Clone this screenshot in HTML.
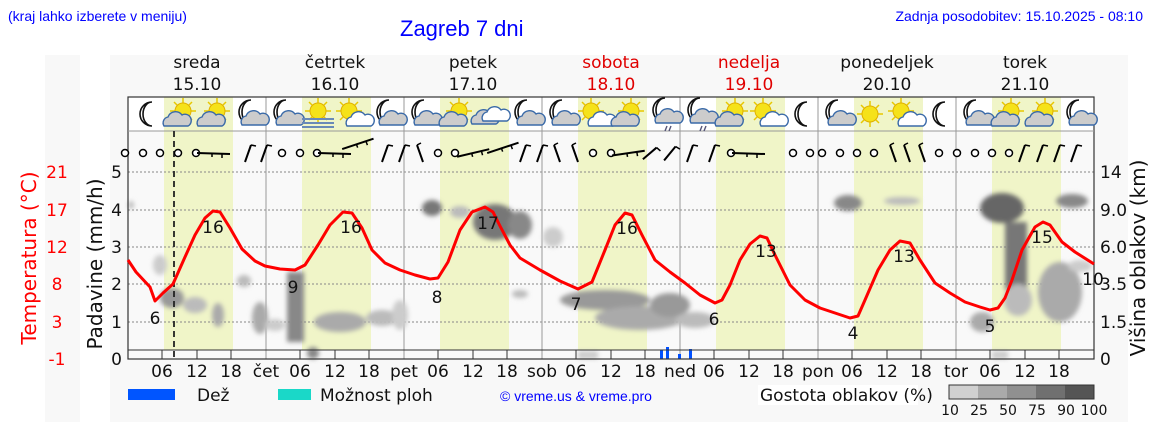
<!DOCTYPE html>
<html><head><meta charset="utf-8"><style>
html,body{margin:0;padding:0;background:#fff;}
svg{display:block;font-family:"DejaVu Sans","Liberation Sans",sans-serif;}
.lib{font-family:"Liberation Sans",sans-serif;}
</style></head><body>
<svg width="1152" height="443" viewBox="0 0 1152 443" xmlns="http://www.w3.org/2000/svg">
<defs>
<filter id="bl" x="-50%" y="-50%" width="200%" height="200%"><feGaussianBlur stdDeviation="2.5"/></filter>
<g id="moon"><path d="M6,-12 A12,12 0 1 0 6,12 A9,12 0 1 1 6,-12Z" fill="#fff" stroke="#111" stroke-width="1.6"/></g>
<g id="sun"><g stroke="#e8c800" stroke-width="1.5"><line x1="-13" y1="0" x2="13" y2="0"/><line x1="0" y1="-13" x2="0" y2="13"/><line x1="-9" y1="-9" x2="9" y2="9"/><line x1="-9" y1="9" x2="9" y2="-9"/></g><circle r="8" fill="#f5e21a" stroke="#e0b000" stroke-width="1"/></g>
<g id="cloud"><path d="M-12,6 A6,6 0 0 1 -8,-3 A8,8 0 0 1 6,-5 A6,6 0 0 1 12,6Z" fill="#ccc" stroke="#3a6aa8" stroke-width="1.4"/></g>
<g id="wcloud"><path d="M-12,6 A6,6 0 0 1 -8,-3 A8,8 0 0 1 6,-5 A6,6 0 0 1 12,6Z" fill="#fff" stroke="#3a6aa8" stroke-width="1.4"/></g>
<g id="mc"><use href="#moon" x="-4" y="-2"/><use href="#cloud" x="5" y="5"/></g>
<g id="sc"><use href="#sun" x="3" y="-3"/><use href="#cloud" x="-4" y="6"/></g>
<g id="ssc"><use href="#sun" x="-3" y="-3"/><use href="#wcloud" x="7" y="6"/></g>
<g id="cc"><use href="#cloud" x="-6" y="4"/><use href="#wcloud" x="5" y="1"/></g>
<g id="mr"><use href="#mc"/><line x1="4" y1="14" x2="2" y2="19" stroke="#557" stroke-width="1.4"/><line x1="8" y1="14" x2="6" y2="19" stroke="#557" stroke-width="1.4"/></g>
<g id="fog"><use href="#sun" x="0" y="-3"/><g stroke="#6a8ab8" stroke-width="2"><line x1="-16" y1="5" x2="16" y2="5"/><line x1="-16" y1="9" x2="16" y2="9"/><line x1="-16" y1="13" x2="16" y2="13"/></g></g>
<circle id="o" r="3.5" fill="#fff" stroke="#000" stroke-width="1.5"/>
<g id="h"><line x1="-3" y1="0" x2="30" y2="1" stroke="#000" stroke-width="2"/><line x1="12" y1="0" x2="12" y2="4" stroke="#000" stroke-width="1.5"/><line x1="22" y1="1" x2="22" y2="5" stroke="#000" stroke-width="1.5"/></g>
<g id="s"><line x1="-3" y1="9" x2="3" y2="-8" stroke="#000" stroke-width="2"/><line x1="3" y1="-8" x2="8" y2="-7" stroke="#000" stroke-width="1.5"/></g>
<g id="b"><line x1="-3" y1="-8" x2="3" y2="9" stroke="#000" stroke-width="2"/><line x1="-3" y1="-8" x2="1" y2="-10" stroke="#000" stroke-width="1.5"/></g>
</defs>

<rect x="45" y="55" width="35" height="367" fill="#f8f8f8"/>
<rect x="110" y="55" width="1018" height="367" fill="#f8f8f8"/>
<rect x="128" y="97" width="966" height="262" fill="#f9f9f9"/>
<rect x="128" y="97" width="966" height="34" fill="#fff"/>

<g fill="#f0f5c8">
<rect x="164" y="97" width="69" height="253"/>
<rect x="302" y="97" width="69" height="253"/>
<rect x="440" y="97" width="69" height="253"/>
<rect x="578" y="97" width="69" height="253"/>
<rect x="716" y="97" width="69" height="253"/>
<rect x="854" y="97" width="69" height="253"/>
<rect x="992" y="97" width="69" height="253"/>
</g>

<g stroke="#888" stroke-width="1" stroke-dasharray="2,2">
<line x1="128" y1="172" x2="1094" y2="172"/><line x1="128" y1="210" x2="1094" y2="210"/>
<line x1="128" y1="247" x2="1094" y2="247"/><line x1="128" y1="284" x2="1094" y2="284"/>
<line x1="128" y1="322" x2="1094" y2="322"/>
</g>
<g stroke="#999" stroke-width="1">
<line x1="266" y1="97" x2="266" y2="359"/><line x1="404" y1="97" x2="404" y2="359"/>
<line x1="542" y1="97" x2="542" y2="359"/><line x1="680" y1="97" x2="680" y2="359"/>
<line x1="818" y1="97" x2="818" y2="359"/><line x1="956" y1="97" x2="956" y2="359"/>
</g>

<g filter="url(#bl)">
<ellipse cx="131" cy="205" rx="3" ry="4" fill="#bbb"/>
<ellipse cx="160" cy="265" rx="7" ry="10" fill="#ccc"/>
<ellipse cx="172" cy="298" rx="12" ry="10" fill="#999"/>
<ellipse cx="195" cy="305" rx="12" ry="8" fill="#bbb"/>
<ellipse cx="218" cy="315" rx="6" ry="12" fill="#aaa"/>
<ellipse cx="244" cy="281" rx="7" ry="6" fill="#bbb"/>
<ellipse cx="260" cy="318" rx="8" ry="16" fill="#aaa"/>
<ellipse cx="275" cy="325" rx="10" ry="6" fill="#ccc"/>
<rect x="287" y="272" width="17" height="70" fill="#888"/>
<ellipse cx="313" cy="353" rx="6" ry="6" fill="#888"/>
<ellipse cx="340" cy="322" rx="26" ry="10" fill="#aaa"/>
<ellipse cx="382" cy="318" rx="16" ry="8" fill="#bbb"/>
<ellipse cx="400" cy="315" rx="8" ry="15" fill="#ccc"/>
<ellipse cx="432" cy="208" rx="10" ry="8" fill="#777"/>
<ellipse cx="460" cy="212" rx="10" ry="6" fill="#bbb"/>
<ellipse cx="495" cy="222" rx="22" ry="18" fill="#777"/>
<ellipse cx="520" cy="225" rx="12" ry="14" fill="#888"/>
<ellipse cx="553" cy="237" rx="10" ry="10" fill="#ccc"/>
<ellipse cx="520" cy="294" rx="8" ry="4" fill="#bbb"/>
<ellipse cx="605" cy="300" rx="45" ry="10" fill="#999"/>
<ellipse cx="640" cy="318" rx="45" ry="12" fill="#aaa"/>
<ellipse cx="670" cy="305" rx="20" ry="12" fill="#999"/>
<ellipse cx="695" cy="320" rx="20" ry="8" fill="#bbb"/>
<ellipse cx="848" cy="203" rx="14" ry="8" fill="#888"/>
<ellipse cx="902" cy="201" rx="18" ry="4" fill="#bbb"/>
<ellipse cx="982" cy="322" rx="12" ry="10" fill="#aaa"/>
<ellipse cx="1002" cy="208" rx="22" ry="15" fill="#666"/>
<rect x="1005" y="222" width="22" height="68" fill="#777"/>
<ellipse cx="1018" cy="300" rx="14" ry="16" fill="#bbb"/>
<ellipse cx="1060" cy="292" rx="22" ry="30" fill="#aaa"/>
<ellipse cx="1080" cy="266" rx="12" ry="6" fill="#ccc"/>
<ellipse cx="1072" cy="201" rx="16" ry="7" fill="#888"/>
<rect x="578" y="351" width="20" height="8" fill="#ccc"/>
<rect x="992" y="351" width="16" height="8" fill="#ccc"/>
</g>

<g fill="#0050ff">
<rect x="660" y="350" width="3" height="9"/><rect x="666" y="347" width="3" height="12"/>
<rect x="678" y="354" width="3" height="5"/><rect x="689" y="349" width="3" height="10"/>
</g>

<rect x="128" y="97" width="966" height="262" fill="none" stroke="#333" stroke-width="1.2"/>
<line x1="128" y1="131" x2="1094" y2="131" stroke="#999"/>
<line x1="128" y1="350" x2="1094" y2="350" stroke="#333"/>
<g stroke="#333">
<line x1="162" y1="350" x2="162" y2="359"/><line x1="197" y1="350" x2="197" y2="359"/><line x1="231" y1="350" x2="231" y2="359"/>
<line x1="300" y1="350" x2="300" y2="359"/><line x1="335" y1="350" x2="335" y2="359"/><line x1="369" y1="350" x2="369" y2="359"/>
<line x1="438" y1="350" x2="438" y2="359"/><line x1="473" y1="350" x2="473" y2="359"/><line x1="507" y1="350" x2="507" y2="359"/>
<line x1="576" y1="350" x2="576" y2="359"/><line x1="611" y1="350" x2="611" y2="359"/><line x1="645" y1="350" x2="645" y2="359"/>
<line x1="714" y1="350" x2="714" y2="359"/><line x1="749" y1="350" x2="749" y2="359"/><line x1="783" y1="350" x2="783" y2="359"/>
<line x1="852" y1="350" x2="852" y2="359"/><line x1="887" y1="350" x2="887" y2="359"/><line x1="921" y1="350" x2="921" y2="359"/>
<line x1="990" y1="350" x2="990" y2="359"/><line x1="1025" y1="350" x2="1025" y2="359"/><line x1="1059" y1="350" x2="1059" y2="359"/>
</g>
<line x1="174" y1="131" x2="174" y2="359" stroke="#222" stroke-width="1.8" stroke-dasharray="6,4"/>

<polyline fill="none" stroke="#f00" stroke-width="3" stroke-linejoin="round" points="128,260 136,272 150,287 155,301 163,293 173,284 185,257 195,235 205,218 213,211 220,212 230,228 242,249 255,261 265,266 280,269 295,270 305,265 318,245 330,225 343,212 352,213 362,228 372,250 385,263 400,270 415,275 430,279 438,278 448,262 460,230 472,212 485,207 493,212 500,226 510,245 520,258 540,270 560,281 578,289 592,282 605,250 615,225 625,213 632,215 642,235 655,260 670,272 685,283 700,295 715,303 722,300 730,285 740,260 750,244 760,236 767,238 775,255 790,285 805,300 820,308 835,313 850,318 858,316 865,300 878,270 890,250 900,241 910,243 920,260 935,283 950,293 965,302 980,307 990,310 998,308 1005,298 1012,280 1022,250 1035,227 1043,222 1050,225 1062,242 1075,252 1094,264"/>
<g font-size="17" fill="#111" text-anchor="middle">
<text x="155" y="324">6</text><text x="213" y="233">16</text><text x="293" y="293">9</text><text x="351" y="233">16</text>
<text x="437" y="303">8</text><text x="488" y="229">17</text><text x="576" y="310">7</text><text x="627" y="234">16</text>
<text x="714" y="325">6</text><text x="766" y="257">13</text><text x="853" y="339">4</text><text x="904" y="262">13</text>
<text x="990" y="332">5</text><text x="1042" y="243">15</text><text x="1093" y="285">10</text>
</g>

<use href="#moon" x="146" y="114"/><use href="#sc" x="180" y="114"/><use href="#sc" x="214" y="114"/><use href="#mc" x="249" y="114"/>
<use href="#mc" x="284" y="114"/><use href="#fog" x="318" y="114"/><use href="#ssc" x="352" y="114"/><use href="#mc" x="387" y="114"/>
<use href="#mc" x="422" y="114"/><use href="#sc" x="456" y="114"/><use href="#cc" x="490" y="114"/><use href="#mc" x="525" y="114"/>
<use href="#mc" x="560" y="114"/><use href="#ssc" x="594" y="114"/><use href="#sc" x="628" y="114"/><use href="#mr" x="663" y="112"/>
<use href="#mr" x="698" y="112"/><use href="#sc" x="732" y="114"/><use href="#ssc" x="766" y="114"/><use href="#moon" x="801" y="114"/>
<use href="#mc" x="836" y="114"/><use href="#sun" x="870" y="114"/><use href="#ssc" x="904" y="114"/><use href="#moon" x="939" y="114"/>
<use href="#mc" x="974" y="114"/><use href="#sc" x="1008" y="114"/><use href="#sc" x="1042" y="114"/><use href="#mc" x="1077" y="114"/>

<use href="#o" x="125" y="153"/><use href="#o" x="143" y="153"/><use href="#o" x="160" y="153"/><use href="#o" x="178" y="153"/><use href="#o" x="196" y="153"/><use href="#h" x="200" y="153"/><use href="#s" x="248" y="153"/><use href="#s" x="264" y="153"/>
<use href="#o" x="282" y="153"/><use href="#o" x="300" y="153"/><use href="#o" x="317" y="153"/><use href="#h" x="321" y="153"/><use href="#h" x="345" y="148" transform="rotate(-20 345 148)"/><use href="#s" x="385" y="153"/><use href="#s" x="402" y="153"/>
<use href="#b" x="420" y="153"/><use href="#o" x="438" y="153"/><use href="#o" x="455" y="153"/><use href="#h" x="460" y="156" transform="rotate(-15 460 156)"/><use href="#h" x="490" y="152" transform="rotate(-20 490 152)"/><use href="#s" x="523" y="153"/><use href="#s" x="540" y="153"/>
<use href="#b" x="557" y="153"/><use href="#b" x="575" y="153"/><use href="#o" x="593" y="153"/><use href="#o" x="611" y="153"/><use href="#h" x="615" y="155" transform="rotate(-10 615 155)"/><use href="#s" x="650" y="153" transform="rotate(30 650 153)"/><use href="#s" x="670" y="153" transform="rotate(20 670 153)"/><use href="#s" x="690" y="153"/><use href="#s" x="712" y="153"/>
<use href="#o" x="731" y="153"/><use href="#h" x="735" y="153"/><use href="#o" x="793" y="153"/><use href="#o" x="810" y="153"/>
<use href="#o" x="822" y="153"/><use href="#o" x="840" y="153"/><use href="#o" x="857" y="153"/><use href="#o" x="874" y="153"/><use href="#b" x="893" y="153"/><use href="#b" x="907" y="153"/><use href="#b" x="922" y="153"/><use href="#o" x="939" y="153"/>
<use href="#o" x="957" y="153"/><use href="#o" x="975" y="153"/><use href="#o" x="992" y="153"/><use href="#o" x="1009" y="153"/><use href="#s" x="1022" y="153"/><use href="#s" x="1040" y="153"/><use href="#s" x="1057" y="153"/><use href="#s" x="1074" y="153"/>

<text class="lib" x="8" y="21" font-size="14" fill="#0000ff">(kraj lahko izberete v meniju)</text>
<text class="lib" x="400" y="36" font-size="22" fill="#0000ff">Zagreb 7 dni</text>
<text class="lib" x="1143" y="21" font-size="14" fill="#0000ff" text-anchor="end">Zadnja posodobitev: 15.10.2025 - 08:10</text>
<g font-size="17" text-anchor="middle" fill="#111">
<text x="197" y="68">sreda</text><text x="197" y="90">15.10</text>
<text x="335" y="68">četrtek</text><text x="335" y="90">16.10</text>
<text x="473" y="68">petek</text><text x="473" y="90">17.10</text>
<text x="611" y="68" fill="#e00000">sobota</text><text x="611" y="90" fill="#e00000">18.10</text>
<text x="749" y="68" fill="#e00000">nedelja</text><text x="749" y="90" fill="#e00000">19.10</text>
<text x="887" y="68">ponedeljek</text><text x="887" y="90">20.10</text>
<text x="1025" y="68">torek</text><text x="1025" y="90">21.10</text>
</g>

<g font-size="17" fill="#111" text-anchor="end">
<text x="122" y="178">5</text><text x="122" y="216">4</text><text x="122" y="253">3</text><text x="122" y="290">2</text><text x="122" y="328">1</text><text x="122" y="365">0</text>
</g>
<g font-size="17" fill="#f00" text-anchor="middle">
<text x="57" y="178">21</text><text x="57" y="216">17</text><text x="57" y="253">12</text><text x="57" y="290">8</text><text x="57" y="328">3</text><text x="57" y="365">-1</text>
</g>
<g font-size="17" fill="#111">
<text x="1100" y="178">14</text><text x="1100" y="216">9.0</text><text x="1100" y="253">6.0</text><text x="1100" y="290">3.5</text><text x="1100" y="328">1.5</text><text x="1100" y="365">0</text>
</g>
<text transform="translate(36,258) rotate(-90)" font-size="20" fill="#f00" text-anchor="middle">Temperatura (°C)</text>
<text transform="translate(102,264) rotate(-90)" font-size="20" fill="#111" text-anchor="middle">Padavine (mm/h)</text>
<text transform="translate(1145,258) rotate(-90)" font-size="20" fill="#111" text-anchor="middle">Višina oblakov (km)</text>
<g font-size="17" fill="#111" text-anchor="middle">
<text x="162" y="377">06</text><text x="197" y="377">12</text><text x="231" y="377">18</text><text x="266" y="377">čet</text>
<text x="300" y="377">06</text><text x="335" y="377">12</text><text x="369" y="377">18</text><text x="404" y="377">pet</text>
<text x="438" y="377">06</text><text x="473" y="377">12</text><text x="507" y="377">18</text><text x="542" y="377">sob</text>
<text x="576" y="377">06</text><text x="611" y="377">12</text><text x="645" y="377">18</text><text x="680" y="377">ned</text>
<text x="714" y="377">06</text><text x="749" y="377">12</text><text x="783" y="377">18</text><text x="818" y="377">pon</text>
<text x="852" y="377">06</text><text x="887" y="377">12</text><text x="921" y="377">18</text><text x="956" y="377">tor</text>
<text x="990" y="377">06</text><text x="1025" y="377">12</text><text x="1059" y="377">18</text>
</g>

<rect x="128" y="389" width="47" height="11" fill="#0055ff"/>
<text x="197" y="401" font-size="17" fill="#111">Dež</text>
<rect x="278" y="389" width="33" height="11" fill="#1ad8c8"/>
<text x="320" y="401" font-size="17" fill="#111">Možnost ploh</text>
<text class="lib" x="500" y="401" font-size="14" fill="#0000ff">© vreme.us &amp; vreme.pro</text>
<rect x="758" y="385" width="160" height="20" fill="#fff"/>
<text x="760" y="401" font-size="17" fill="#111">Gostota oblakov (%)</text>
<rect x="949" y="385" width="29" height="14" fill="#d0d0d0"/>
<rect x="978" y="385" width="29" height="14" fill="#aaa"/>
<rect x="1007" y="385" width="29" height="14" fill="#909090"/>
<rect x="1036" y="385" width="29" height="14" fill="#707070"/>
<rect x="1065" y="385" width="29" height="14" fill="#555"/>
<rect x="949" y="385" width="145" height="14" fill="none" stroke="#333"/>
<g font-size="14" fill="#111" text-anchor="middle">
<text x="950" y="415">10</text><text x="979" y="415">25</text><text x="1008" y="415">50</text><text x="1037" y="415">75</text><text x="1066" y="415">90</text><text x="1094" y="415">100</text>
</g>
</svg>
</body></html>
